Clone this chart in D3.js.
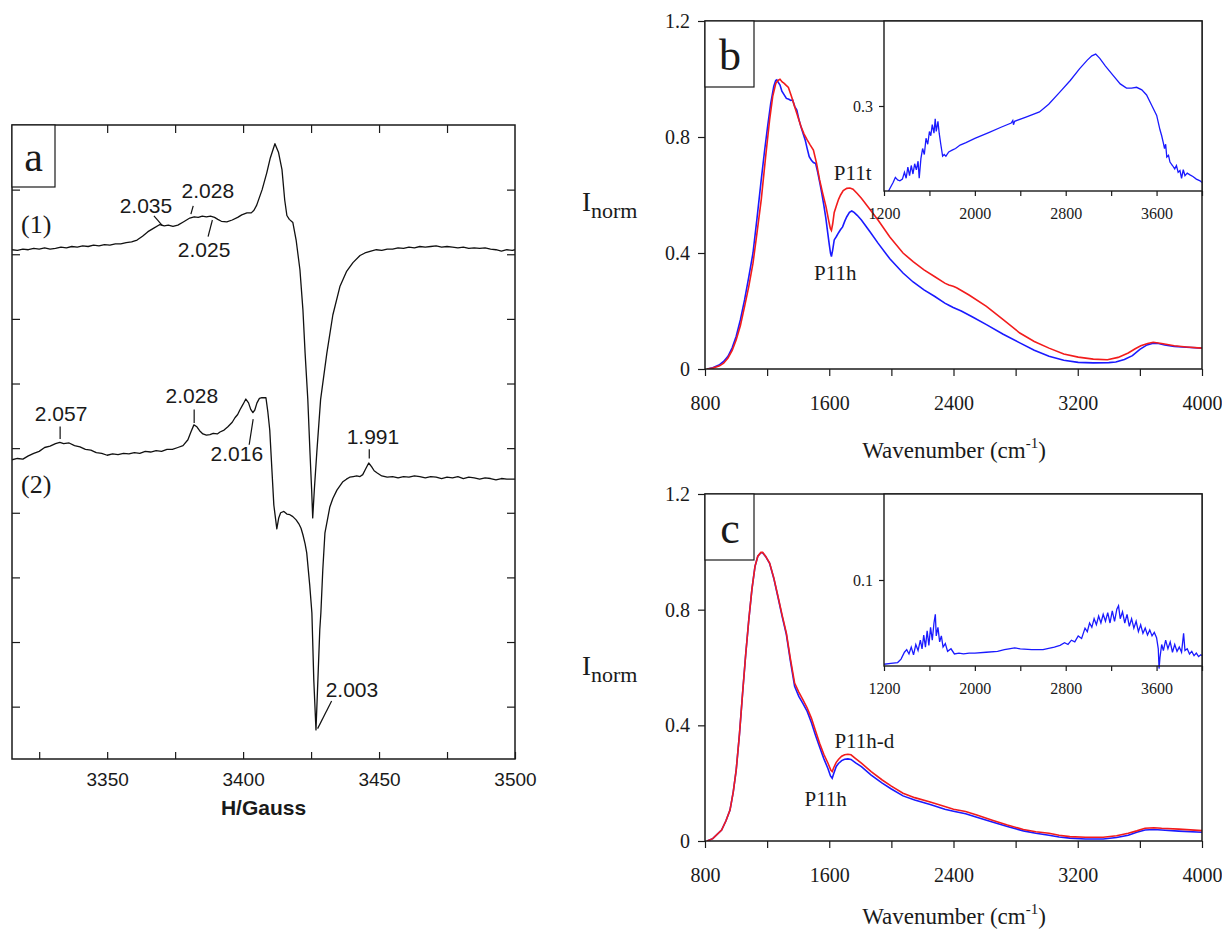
<!DOCTYPE html>
<html>
<head>
<meta charset="utf-8">
<script src="https://cdn.jsdelivr.net/npm/d3@7"></script>
<style>
  body { margin: 0; background: #fff; }
  svg { display: block; }
  .sans { font-family: "Liberation Sans", Arial, sans-serif; }
  .serif { font-family: "Liberation Serif", "Times New Roman", serif; }
</style>
</head>
<body>
<svg id="fig" width="1222" height="932"></svg>
<script>
// ---------- (a) EPR spectra: [field / G, dI/dH (a.u.)] ----------
const eprSpectrum1 = [
  [3315,707],[3317,706],[3319,708],[3321,707],[3323,709],[3325,708],[3327,710],[3329,708],
  [3331,709],[3333,711],[3335,710],[3337,712],[3339,711],[3341,713],[3343,712],[3345,714],
  [3347,713],[3349,715],[3351,714],[3353,716],[3355,716],[3357,718],[3359,719],[3361,722],
  [3363,728],[3365,735],[3367,740],[3369.4,746],[3371,744],[3372.5,745],[3374.2,743],[3376,745],
  [3378,750],[3380.4,756],[3382,758],[3383.5,757],[3385,759],[3386.5,758],[3388,759],[3389.5,757],
  [3390.7,754],[3392,751],[3394,750],[3396,753],[3398,757],[3399.5,761],[3401.4,764],[3403,764],
  [3404,768],[3405,776],[3407,800],[3408.7,826],[3410,849],[3411.7,871],[3413,858],[3414.3,831],
  [3415.3,784],[3416.1,760],[3417,754],[3418.3,749],[3419.5,722],[3420.9,676],[3422,614],
  [3422.8,547],[3423.8,475],[3424.6,393],[3425.2,336],[3425.6,292],[3426.2,336],[3427.1,393],
  [3428.5,475],[3430.8,547],[3433,606],[3435.6,650],[3438,673],[3440.4,687],[3443,698],
  [3444.8,702],[3447,705],[3449,707],[3451,706],[3453,708],[3455,708],[3457,710],[3459,709],
  [3461,711],[3463,710],[3465,712],[3467,711],[3469,712],[3471,713],[3473,711],[3475,712],
  [3477,711],[3479,710],[3481,711],[3483,709],[3485,710],[3487,709],[3489,710],[3491,708],
  [3493,707],[3495,705],[3497,707],[3499,706],[3500,707]
];
const eprSpectrum2 = [
  [3315,382],[3317,384],[3319,383],[3321,388],[3323,392],[3325,395],[3327,401],[3329,403],
  [3331,407],[3332.6,409],[3334,407],[3336,408],[3338,404],[3340,402],[3342,398],[3344,397],
  [3346,393],[3348,392],[3350,389],[3352,391],[3354,390],[3356,392],[3358,391],[3360,393],
  [3362,392],[3364,395],[3366,394],[3368,396],[3370,395],[3372,398],[3374,398],[3376,401],
  [3377.9,404],[3379.7,413],[3380.8,425],[3381.9,436],[3383,433],[3384,427],[3385.2,422],
  [3386.5,420],[3387.8,421],[3389,423],[3390.5,422],[3391.5,425],[3393,428],[3394.4,433],
  [3396,440],[3397,447],[3398,452],[3398.8,459],[3400,468],[3401,476],[3402,470],[3402.8,460],
  [3403.6,455],[3404.3,459],[3405.1,470],[3406,477],[3406.9,478],[3408.4,478],[3409.1,456],
  [3409.8,428],[3410.6,366],[3411.3,312],[3412.4,275],[3413.1,292],[3413.8,300],[3415,302],
  [3416.1,298],[3417.2,297],[3418.3,294],[3419.5,289],[3420.5,283],[3421.3,276],[3422,266],
  [3422.8,252],[3423.4,238],[3424.5,188],[3425.3,145],[3426,41],[3426.8,-36],[3427.5,41],
  [3428.2,119],[3428.6,145],[3429.3,211],[3430.1,269],[3431.9,309],[3433,322],[3434.5,335],
  [3436.7,348],[3438,352],[3439.2,355],[3440.5,356],[3441.8,357],[3443,356],[3444,359],
  [3445.1,368],[3446.2,377],[3447.3,371],[3448.2,365],[3449.2,362],[3451,357],[3453,355],
  [3455,356],[3457,354],[3459,356],[3461,355],[3463,357],[3465,356],[3467,354],[3469,356],
  [3471,355],[3473,353],[3475,355],[3477,354],[3479,356],[3481,353],[3483,355],[3485,354],
  [3487,352],[3489,354],[3491,353],[3493,351],[3495,353],[3497,352],[3500,352]
];
const fieldTicks = [3325, 3350, 3375, 3400, 3425, 3450, 3475, 3500];
const fieldTickLabels = [3350, 3400, 3450, 3500];
const eprYTicks = [0, 100, 200, 300, 400, 500, 600, 700, 800];
// g-factor annotations: anchor field/intensity, leader vector and text offset (px)
const gLabels = [
  { text: "2.035", field: 3370.4, val: 744, lead: [-8.7, -10], txt: [-16.7, -13] },
  { text: "2.028", field: 3380.8, val: 762, lead: [2.3, -8.3], txt: [17, -16.3] },
  { text: "2.025", field: 3388.7, val: 753, lead: [-4.3, 16.7], txt: [-8.3, 37] },
  { text: "2.057", field: 3332.7, val: 414, lead: [0, -12.6], txt: [1, -18.3] },
  { text: "2.028", field: 3382.0, val: 439, lead: [0, -13.4], txt: [-2.3, -19.7] },
  { text: "2.016", field: 3403.7, val: 445, lead: [-4, 25.7], txt: [-16.3, 41.7] },
  { text: "1.991", field: 3446.4, val: 384, lead: [0, -9.3], txt: [3.7, -14.3] },
  { text: "2.003", field: 3427.4, val: -34, lead: [14, -27.6], txt: [34.3, -31.3] }
];
const traceNames = ["(1)", "(2)"];

// ---------- (b) Raman intensity, normalised: [wavenumber / cm-1, I_norm] ----------
const bBlue = [
  [813,0],[850,0.004],[894,0.015],[920,0.026],[948,0.044],[975,0.073],[1001,0.113],[1028,0.17],
  [1055,0.239],[1082,0.318],[1109,0.40],[1135,0.52],[1162,0.652],[1183,0.75],[1203,0.836],
  [1223,0.915],[1243,0.975],[1255,0.995],[1262,0.997],[1270,0.99],[1283,0.979],[1295,0.958],
  [1310,0.945],[1324,0.933],[1340,0.93],[1352,0.926],[1364,0.928],[1378,0.905],[1391,0.893],
  [1405,0.86],[1418,0.835],[1431,0.813],[1445,0.79],[1458,0.76],[1471,0.732],[1485,0.72],
  [1498,0.712],[1512,0.709],[1525,0.68],[1540,0.64],[1552,0.606],[1565,0.565],[1578,0.52],
  [1590,0.47],[1600,0.43],[1608,0.40],[1614,0.388],[1622,0.41],[1632,0.445],[1646,0.457],
  [1660,0.47],[1672,0.48],[1686,0.49],[1700,0.51],[1713,0.525],[1730,0.54],[1745,0.545],
  [1760,0.54],[1780,0.53],[1807,0.514],[1860,0.475],[1914,0.434],[1990,0.38],[2075,0.331],
  [2140,0.3],[2210,0.273],[2280,0.25],[2344,0.227],[2370,0.22],[2398,0.212],[2450,0.2],
  [2520,0.18],[2612,0.153],[2720,0.12],[2827,0.09],[2920,0.065],[3015,0.044],[3110,0.03],
  [3203,0.023],[3300,0.021],[3400,0.022],[3445,0.024],[3500,0.033],[3552,0.046],[3600,0.068],
  [3646,0.083],[3680,0.088],[3713,0.089],[3760,0.083],[3821,0.078],[3900,0.075],[4000,0.072]
];
const bRed = [
  [813,0],[850,0.003],[894,0.011],[920,0.02],[948,0.038],[975,0.064],[1001,0.101],[1028,0.15],
  [1055,0.216],[1082,0.285],[1109,0.365],[1135,0.47],[1162,0.583],[1190,0.73],[1216,0.859],
  [1236,0.94],[1256,0.985],[1270,0.995],[1283,0.999],[1297,0.99],[1310,0.985],[1323,0.978],
  [1337,0.971],[1357,0.94],[1377,0.905],[1398,0.87],[1418,0.836],[1438,0.81],[1458,0.79],
  [1478,0.772],[1498,0.755],[1518,0.71],[1538,0.652],[1558,0.605],[1579,0.56],[1597,0.51],
  [1607,0.485],[1614,0.478],[1622,0.5],[1632,0.54],[1646,0.563],[1660,0.585],[1673,0.6],
  [1690,0.615],[1713,0.623],[1733,0.624],[1753,0.62],[1780,0.605],[1807,0.589],[1860,0.552],
  [1914,0.514],[1990,0.455],[2075,0.4],[2140,0.37],[2210,0.342],[2280,0.318],[2344,0.296],
  [2370,0.29],[2398,0.285],[2420,0.28],[2500,0.255],[2612,0.216],[2720,0.17],[2827,0.124],
  [2920,0.095],[3015,0.072],[3110,0.052],[3203,0.041],[3300,0.034],[3391,0.032],[3460,0.04],
  [3525,0.055],[3570,0.07],[3606,0.08],[3650,0.088],[3686,0.092],[3740,0.088],[3821,0.08],
  [3900,0.076],[4000,0.072]
];
// difference spectrum shown in the (b) inset
const bInset = [
  [1240,0.200],[1260,0.205],[1280,0.210],[1300,0.216],[1320,0.213],[1340,0.212],[1362,0.214],
  [1380,0.222],[1395,0.215],[1410,0.228],[1425,0.218],[1440,0.23],[1455,0.22],[1470,0.232],
  [1485,0.225],[1500,0.235],[1510,0.215],[1525,0.238],[1540,0.25],[1555,0.243],[1570,0.262],
  [1585,0.255],[1600,0.27],[1612,0.265],[1625,0.278],[1640,0.268],[1651,0.285],[1660,0.27],
  [1675,0.282],[1686,0.268],[1700,0.255],[1716,0.241],[1730,0.243],[1745,0.241],[1770,0.246],
  [1800,0.248],[1830,0.25],[1870,0.254],[1922,0.257],[2000,0.262],[2127,0.269],[2230,0.275],
  [2320,0.28],[2334,0.283],[2340,0.278],[2350,0.282],[2450,0.287],[2569,0.293],[2650,0.302],
  [2746,0.316],[2840,0.33],[2923,0.344],[2990,0.354],[3030,0.359],[3064,0.361],[3100,0.356],
  [3150,0.347],[3217,0.336],[3280,0.326],[3335,0.321],[3380,0.321],[3424,0.322],[3470,0.319],
  [3512,0.313],[3560,0.3],[3601,0.289],[3630,0.272],[3645,0.265],[3659,0.257],[3670,0.25],
  [3680,0.255],[3690,0.24],[3705,0.242],[3718,0.234],[3740,0.23],[3760,0.226],[3775,0.23],
  [3790,0.222],[3806,0.224],[3820,0.215],[3835,0.225],[3850,0.218],[3870,0.221],[3894,0.219],
  [3920,0.217],[3950,0.214],[3983,0.212],[4000,0.21]
];
const bLabels = [
  { text: "P11t", wn: 1751, val: 0.652 },
  { text: "P11h", wn: 1639, val: 0.308 }
];

// ---------- (c) ----------
const cBlue = [
  [813,0],[850,0.008],[907,0.038],[935,0.07],[961,0.107],[982,0.17],[1001,0.246],[1022,0.37],
  [1042,0.511],[1062,0.645],[1082,0.765],[1102,0.87],[1122,0.95],[1140,0.985],[1160,0.997],
  [1171,0.997],[1190,0.984],[1216,0.96],[1243,0.908],[1270,0.843],[1297,0.776],[1324,0.714],
  [1350,0.622],[1377,0.535],[1404,0.5],[1431,0.475],[1458,0.448],[1485,0.41],[1512,0.365],
  [1538,0.325],[1565,0.285],[1592,0.25],[1608,0.225],[1619,0.217],[1630,0.235],[1645,0.258],
  [1659,0.268],[1680,0.278],[1699,0.283],[1720,0.284],[1740,0.282],[1770,0.27],[1807,0.257],
  [1870,0.228],[1941,0.2],[2000,0.18],[2075,0.156],[2150,0.142],[2250,0.126],[2344,0.11],
  [2400,0.103],[2478,0.094],[2550,0.082],[2650,0.066],[2747,0.05],[2850,0.035],[2930,0.027],
  [3015,0.02],[3080,0.014],[3149,0.01],[3250,0.007],[3364,0.007],[3450,0.012],[3525,0.02],
  [3580,0.03],[3633,0.038],[3690,0.04],[3740,0.038],[3850,0.034],[4000,0.03]
];
const cRed = [
  [813,0],[850,0.008],[907,0.038],[935,0.07],[961,0.107],[982,0.17],[1001,0.246],[1022,0.37],
  [1042,0.511],[1062,0.645],[1082,0.765],[1102,0.87],[1122,0.95],[1140,0.985],[1160,0.998],
  [1171,0.998],[1190,0.985],[1216,0.961],[1243,0.91],[1270,0.846],[1297,0.78],[1324,0.719],
  [1350,0.63],[1377,0.546],[1404,0.515],[1431,0.488],[1458,0.46],[1485,0.425],[1512,0.38],
  [1538,0.338],[1565,0.3],[1592,0.269],[1610,0.245],[1619,0.24],[1630,0.255],[1645,0.272],
  [1659,0.282],[1680,0.293],[1699,0.298],[1720,0.3],[1740,0.298],[1770,0.285],[1807,0.269],
  [1870,0.24],[1941,0.211],[2000,0.19],[2075,0.165],[2150,0.15],[2250,0.135],[2344,0.119],
  [2400,0.11],[2478,0.102],[2550,0.09],[2650,0.072],[2747,0.055],[2850,0.04],[2930,0.032],
  [3015,0.027],[3080,0.02],[3149,0.015],[3250,0.013],[3364,0.013],[3450,0.018],[3525,0.027],
  [3580,0.035],[3633,0.044],[3690,0.046],[3740,0.044],[3850,0.041],[4000,0.036]
];
const cInset = [
  [1200,0.002],[1260,0.003],[1320,0.004],[1350,0.008],[1380,0.016],[1400,0.019],[1420,0.014],
  [1440,0.022],[1460,0.013],[1480,0.025],[1500,0.018],[1520,0.03],[1535,0.02],[1550,0.036],
  [1565,0.022],[1580,0.041],[1595,0.024],[1610,0.045],[1625,0.03],[1640,0.05],[1652,0.06],
  [1660,0.035],[1675,0.045],[1690,0.028],[1705,0.035],[1720,0.022],[1740,0.026],[1760,0.017],
  [1790,0.02],[1820,0.014],[1860,0.015],[1900,0.014],[1950,0.015],[2000,0.015],[2100,0.016],
  [2200,0.017],[2260,0.019],[2300,0.02],[2350,0.021],[2400,0.02],[2500,0.019],[2600,0.019],
  [2700,0.022],[2750,0.024],[2790,0.027],[2820,0.025],[2850,0.03],[2880,0.028],[2910,0.035],
  [2940,0.032],[2970,0.044],[2990,0.04],[3010,0.05],[3030,0.045],[3050,0.055],[3070,0.048],
  [3090,0.058],[3110,0.05],[3130,0.06],[3150,0.052],[3170,0.062],[3190,0.05],[3210,0.064],
  [3230,0.052],[3250,0.066],[3265,0.07],[3280,0.055],[3300,0.063],[3320,0.05],[3340,0.06],
  [3360,0.046],[3380,0.055],[3400,0.044],[3420,0.052],[3440,0.04],[3460,0.048],[3480,0.038],
  [3500,0.044],[3520,0.036],[3540,0.042],[3560,0.035],[3580,0.039],[3600,0.033],[3615,0.02],
  [3622,-0.003],[3630,0.01],[3645,0.025],[3660,0.018],[3680,0.03],[3700,0.02],[3720,0.028],
  [3740,0.016],[3760,0.025],[3780,0.017],[3800,0.022],[3820,0.016],[3838,0.038],[3850,0.018],
  [3870,0.02],[3890,0.014],[3910,0.017],[3930,0.012],[3950,0.015],[3970,0.011],[3990,0.013],
  [4000,0.012]
];
const cLabels = [
  { text: "P11h-d", wn: 1826, val: 0.322 },
  { text: "P11h", wn: 1577, val: 0.121 }
];

const wnTicks = [800, 1200, 1600, 2000, 2400, 2800, 3200, 3600, 4000];
const wnTickLabels = [800, 1600, 2400, 3200, 4000];
const normTicks = [0, 0.4, 0.8, 1.2];
const insetWnTicks = [1200, 1600, 2000, 2400, 2800, 3200, 3600, 4000];
const insetWnTickLabels = [1200, 2000, 2800, 3600];

const BLUE = "#1a1aff", RED = "#f21c1c", INK = "#1a1a1a";

const svg = d3.select("#fig");
const defs = svg.append("defs");
svg.append("rect").attr("width", 1222).attr("height", 932).attr("fill", "#fff");

function clip(id, x, y, w, h) {
  defs.append("clipPath").attr("id", id)
    .append("rect").attr("x", x).attr("y", y).attr("width", w).attr("height", h);
  return `url(#${id})`;
}
function styleAxis(g, cls, size) {
  g.select(".domain").remove();
  g.selectAll(".tick line").attr("stroke", INK).attr("stroke-width", 1.2);
  g.selectAll(".tick text").attr("class", cls).attr("font-size", size).attr("fill", INK);
  g.attr("font-family", null);
}

// ================= Panel (a) =================
(function () {
  const L = 12, R = 515, T = 125, B = 759;
  const x = d3.scaleLinear().domain([3315, 3500]).range([L, R]);
  const y = d3.scaleLinear().domain([-81, 900]).range([B, T]);
  const g = svg.append("g");
  const cp = clip("clipA", L, T, R - L, B - T);
  const line = d3.line().x(d => x(d[0])).y(d => y(d[1]));

  [eprSpectrum1, eprSpectrum2].forEach(s => {
    g.append("path").datum(s).attr("d", line).attr("clip-path", cp)
      .attr("fill", "none").attr("stroke", "#111").attr("stroke-width", 1.3)
      .attr("stroke-linejoin", "round");
  });

  const ax = g.append("g").attr("transform", `translate(0,${B})`)
    .call(d3.axisBottom(x).tickValues(fieldTicks).tickSize(-7).tickSizeOuter(0).tickPadding(14)
      .tickFormat(d => fieldTickLabels.includes(d) ? d : ""));
  styleAxis(ax, "sans", 19);
  const axT = g.append("g").attr("transform", `translate(0,${T})`)
    .call(d3.axisTop(x).tickValues(fieldTicks.slice(1, -1)).tickSize(-8).tickSizeOuter(0).tickFormat(""));
  styleAxis(axT, "sans", 19);
  const ayL = g.append("g").attr("transform", `translate(${L},0)`)
    .call(d3.axisLeft(y).tickValues(eprYTicks).tickSize(-8).tickSizeOuter(0).tickFormat(""));
  styleAxis(ayL, "sans", 19);
  const ayR = g.append("g").attr("transform", `translate(${R},0)`)
    .call(d3.axisRight(y).tickValues(eprYTicks).tickSize(-8).tickSizeOuter(0).tickFormat(""));
  styleAxis(ayR, "sans", 19);

  g.append("rect").attr("x", L).attr("y", T).attr("width", R - L).attr("height", B - T)
    .attr("fill", "none").attr("stroke", INK).attr("stroke-width", 1.5);

  // panel letter
  g.append("rect").attr("x", L).attr("y", T).attr("width", 43).attr("height", 62)
    .attr("fill", "#fff").attr("stroke", INK).attr("stroke-width", 1.2);
  g.append("text").attr("class", "serif").attr("x", L + 21.5).attr("y", T + 46)
    .attr("text-anchor", "middle").attr("font-size", 42).attr("fill", INK).text("a");

  // g-factor labels with leader lines
  gLabels.forEach(a => {
    const px = x(a.field), py = y(a.val);
    g.append("line").attr("x1", px).attr("y1", py)
      .attr("x2", px + a.lead[0]).attr("y2", py + a.lead[1])
      .attr("stroke", "#111").attr("stroke-width", 1.2);
    g.append("text").attr("class", "sans").attr("x", px + a.txt[0]).attr("y", py + a.txt[1])
      .attr("text-anchor", "middle").attr("font-size", 21).attr("fill", INK).text(a.text);
  });

  // trace numbers, placed beside each baseline
  [[eprSpectrum1, -17], [eprSpectrum2, 33]].forEach(([s, dy], i) => {
    g.append("text").attr("class", "serif").attr("x", L + 9).attr("y", y(s[0][1]) + dy)
      .attr("font-size", 26).attr("fill", INK).text(traceNames[i]);
  });

  g.append("text").attr("class", "sans").attr("x", (L + R) / 2 + 0).attr("y", 815)
    .attr("text-anchor", "middle").attr("font-size", 21).attr("font-weight", "bold")
    .attr("fill", INK).text("H/Gauss");
})();

// ================= Panels (b) and (c) =================
function drawIR(cfg) {
  const L = 705, R = 1202, T = cfg.top, B = cfg.bottom;
  const x = d3.scaleLinear().domain([800, 4000]).range([L, R]);
  const y = d3.scaleLinear().domain([0, 1.2]).range([B, T]);
  const g = svg.append("g");
  const cp = clip("clip" + cfg.letter, L, T, R - L, B - T);
  const line = d3.line().x(d => x(d[0])).y(d => y(d[1]));

  g.append("path").datum(cfg.blue).attr("d", line).attr("clip-path", cp)
    .attr("fill", "none").attr("stroke", BLUE).attr("stroke-width", 1.6);
  g.append("path").datum(cfg.red).attr("d", line).attr("clip-path", cp)
    .attr("fill", "none").attr("stroke", RED).attr("stroke-width", 1.6);

  const ax = g.append("g").attr("transform", `translate(0,${B})`)
    .call(d3.axisBottom(x).tickValues(wnTicks).tickSize(7).tickSizeOuter(0).tickPadding(20)
      .tickFormat(d => wnTickLabels.includes(d) ? d : ""));
  styleAxis(ax, "serif", 20);
  const ay = g.append("g").attr("transform", `translate(${L},0)`)
    .call(d3.axisLeft(y).tickValues(normTicks).tickSize(7).tickSizeOuter(0).tickPadding(8)
      .tickFormat(d => d === 0 ? "0" : d.toFixed(1)));
  styleAxis(ay, "serif", 20);

  g.append("rect").attr("x", L).attr("y", T).attr("width", R - L).attr("height", B - T)
    .attr("fill", "none").attr("stroke", INK).attr("stroke-width", 1.5);

  // peak annotations
  cfg.labels.forEach(a => {
    g.append("text").attr("class", "serif").attr("x", x(a.wn)).attr("y", y(a.val))
      .attr("text-anchor", "middle").attr("font-size", 21).attr("fill", INK).text(a.text);
  });

  // inset
  const iL = 884, iB = cfg.insetBottom;
  const xi = d3.scaleLinear().domain([1200, 4000]).range([iL, R]);
  const yi = d3.scaleLinear().domain(cfg.insetDomain).range([iB, T]);
  g.append("rect").attr("x", iL).attr("y", T).attr("width", R - iL).attr("height", iB - T)
    .attr("fill", "#fff");
  const cpi = clip("clipI" + cfg.letter, iL, T, R - iL, iB - T + 3);
  g.append("path").datum(cfg.inset)
    .attr("d", d3.line().x(d => xi(d[0])).y(d => yi(d[1])))
    .attr("clip-path", cpi).attr("fill", "none").attr("stroke", BLUE).attr("stroke-width", 1.3);
  const axi = g.append("g").attr("transform", `translate(0,${iB})`)
    .call(d3.axisBottom(xi).tickValues(insetWnTicks).tickSize(5).tickSizeOuter(0).tickPadding(12)
      .tickFormat(d => insetWnTickLabels.includes(d) ? d : ""));
  styleAxis(axi, "serif", 16);
  const ayi = g.append("g").attr("transform", `translate(${iL},0)`)
    .call(d3.axisLeft(yi).tickValues([cfg.insetTick]).tickSize(5).tickSizeOuter(0).tickPadding(6)
      .tickFormat(d3.format(".1f")));
  styleAxis(ayi, "serif", 16);
  g.append("rect").attr("x", iL).attr("y", T).attr("width", R - iL).attr("height", iB - T)
    .attr("fill", "none").attr("stroke", INK).attr("stroke-width", 1.4);

  // panel letter
  g.append("rect").attr("x", L).attr("y", T).attr("width", 49).attr("height", 66)
    .attr("fill", "#fff").attr("stroke", INK).attr("stroke-width", 1.2);
  g.append("text").attr("class", "serif").attr("x", L + 25).attr("y", T + 49)
    .attr("text-anchor", "middle").attr("font-size", 44).attr("fill", INK).text(cfg.letter);

  // axis titles
  const yl = g.append("text").attr("class", "serif").attr("x", 582).attr("y", cfg.yLabelY)
    .attr("fill", INK);
  yl.append("tspan").attr("font-size", 27).text("I");
  yl.append("tspan").attr("font-size", 22).attr("dy", 7).text("norm");

  const xl = g.append("text").attr("class", "serif").attr("x", 954).attr("y", cfg.xLabelY)
    .attr("text-anchor", "middle").attr("font-size", 23).attr("fill", INK);
  xl.append("tspan").text("Wavenumber (cm");
  xl.append("tspan").attr("font-size", 15).attr("dy", -10).text("-1");
  xl.append("tspan").attr("dy", 10).text(")");
}

drawIR({ letter: "b", top: 21, bottom: 369, blue: bBlue, red: bRed, labels: bLabels,
  inset: bInset, insetDomain: [0.2, 0.4], insetTick: 0.3, insetBottom: 191,
  yLabelY: 211, xLabelY: 458 });
drawIR({ letter: "c", top: 494, bottom: 841, blue: cBlue, red: cRed, labels: cLabels,
  inset: cInset, insetDomain: [0, 0.2], insetTick: 0.1, insetBottom: 666,
  yLabelY: 675, xLabelY: 924 });
</script>
</body>
</html>
